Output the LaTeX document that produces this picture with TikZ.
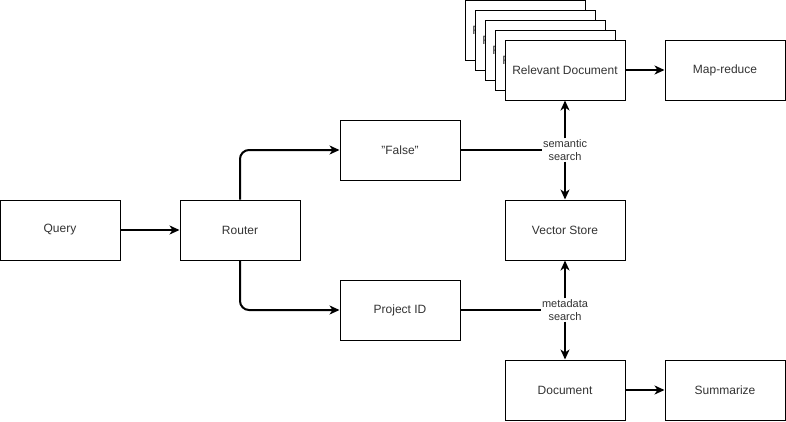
\documentclass[tikz,border=0pt]{standalone}
\usepackage{fontspec}
\setmainfont{Liberation Sans}
\usetikzlibrary{arrows.meta}
\definecolor{txt}{HTML}{333333}
\tikzset{
  box/.style={draw=black, line width=1pt, fill=white, minimum width=120pt, minimum height=60pt, inner sep=0pt, font=\fontsize{12}{14}\selectfont, text=txt},
  lbl/.style={fill=white, inner sep=1pt, align=center, font=\fontsize{11}{13}\selectfont, text=txt},
  conn/.style={line width=2pt, -{Stealth[length=10pt,width=9pt,inset=3pt]}},
  plain/.style={line width=2pt},
}
\begin{document}
\begin{tikzpicture}[x=1pt,y=-1pt]
\useasboundingbox (0,0) rectangle (786,421);
\node[box] (q) at (60,230) {Query};
\node[box] (r) at (240,230) {Router};
\node[box] (f) at (400,150) {"False"};
\node[box] (p) at (400,310) {Project ID};
\node[box] (vs) at (565,230) {Vector Store};
\node[box] (rd4) at (525,30) {Relevant Document};
\node[box] (rd3) at (535,40) {Relevant Document};
\node[box] (rd2) at (545,50) {Relevant Document};
\node[box] (rd1) at (555,60) {Relevant Document};
\node[box] (rd) at (565,70) {Relevant Document};
\node[box] (mr) at (725,70) {Map-reduce};
\node[box] (d) at (565,390) {Document};
\node[box] (s) at (725,390) {Summarize};
\node[lbl] (ss) at (565,150) {semantic\\search};
\node[lbl] (ms) at (565,310) {metadata\\search};

\draw[conn] (q) -- (r);
\draw[conn, rounded corners=9pt] (r.north) |- (f.west);
\draw[conn, rounded corners=9pt] (r.south) |- (p.west);
\draw[plain] (f.east) -- (ss.west);
\draw[conn] (ss.north) -- (rd.south);
\draw[conn] (ss.south) -- (vs.north);
\draw[plain] (p.east) -- (ms.west);
\draw[conn] (ms.north) -- (vs.south);
\draw[conn] (ms.south) -- (d.north);
\draw[conn] (rd) -- (mr);
\draw[conn] (d) -- (s);
\end{tikzpicture}
\end{document}
